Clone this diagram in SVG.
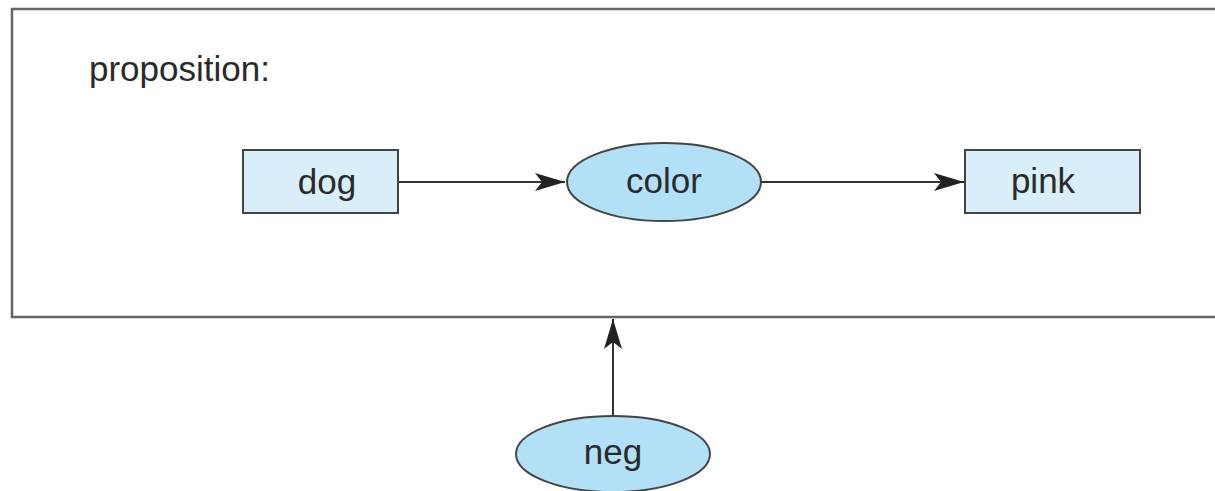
<svg xmlns="http://www.w3.org/2000/svg" width="1215" height="491" viewBox="0 0 1215 491">
<style>
text{font-family:"Liberation Sans",Arial,sans-serif;font-size:35px;fill:#2a2a2a;text-anchor:middle}
.box{fill:#d8eef9;stroke:#444;stroke-width:2}
.ell{fill:#b2e0f6;stroke:#444;stroke-width:2}
.edge{stroke:#333;stroke-width:2;fill:none}
</style>
<defs>
<marker id="ah" viewBox="0 0 30 18" refX="30" refY="9" markerWidth="30" markerHeight="18" markerUnits="userSpaceOnUse" orient="auto">
<path d="M0,0 L30,9 L0,18 L7,9 Z" fill="#222"/>
</marker>
</defs>
<rect width="1215" height="491" fill="#fff"/>
<g id="proposition">
<path d="M1216,9 H12 V317 H1216" fill="none" stroke="#666" stroke-width="2.5"/>
<text x="89" y="81" style="text-anchor:start;font-size:35px">proposition:</text>
</g>
<g id="connectors">
<line class="edge" x1="398" y1="182" x2="565" y2="182" marker-end="url(#ah)"/>
<line class="edge" x1="761" y1="182" x2="964" y2="182" marker-end="url(#ah)" stroke="#555"/>
<line class="edge" x1="613" y1="415" x2="613" y2="319" marker-end="url(#ah)"/>
</g>
<g id="dog">
<rect class="box" x="243" y="150" width="155" height="63"/>
<text x="327" y="194">dog</text>
</g>
<g id="color">
<ellipse class="ell" cx="664" cy="182" rx="97" ry="39"/>
<text x="664" y="193">color</text>
</g>
<g id="pink">
<rect class="box" x="965" y="150" width="175" height="63"/>
<text x="1043" y="193">pink</text>
</g>
<g id="neg">
<ellipse class="ell" cx="613" cy="454" rx="97" ry="38"/>
<text x="613" y="464">neg</text>
</g>
</svg>
